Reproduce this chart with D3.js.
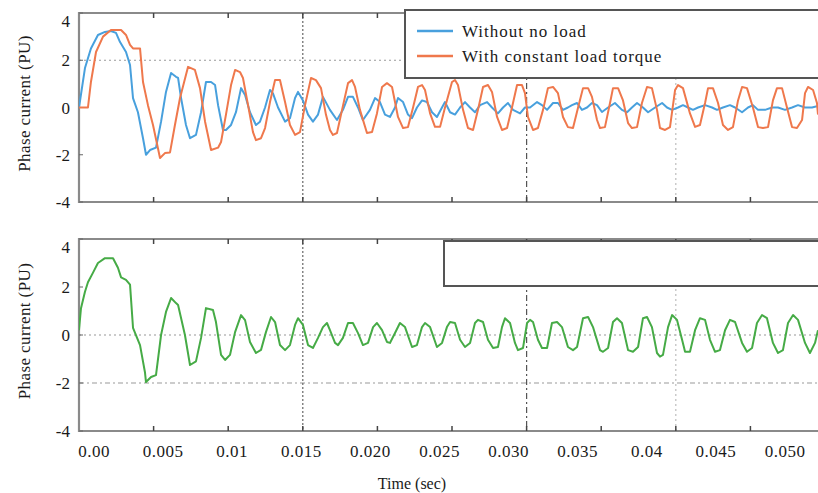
<!DOCTYPE html>
<html><head><meta charset="utf-8">
<script src="https://cdn.jsdelivr.net/npm/d3@7"></script>
<style>
body{margin:0;background:#fff}
svg{display:block}
</style>
</head><body>
<svg id="c" width="818" height="493" font-family="'Liberation Serif', 'Times New Roman', Times, serif"></svg>
<script>
// ---- data (time in milliseconds, current in PU) ----
const blueTimeMs = [
0,0.40,0.80,1.27,1.74,2.14,2.48,2.75,2.95,3.15,
3.42,3.62,3.95,4.29,4.49,4.76,5.16,5.50,5.83,6.17,
6.50,6.64,6.84,7.17,7.44,7.84,8.18,8.51,8.85,9.12,
9.32,9.65,9.85,10.19,10.52,10.86,11.13,11.46,11.86,12.13,
12.47,12.80,13.00,13.34,13.81,14.14,14.48,14.68,15.01,15.35,
15.68,16.02,16.35,16.82,17.29,17.69,18.03,18.36,18.70,19.03,
19.50,19.84,20.17,20.51,20.84,21.18,21.38,21.72,22.05,22.32,
22.65,22.99,23.32,23.66,23.99,24.33,24.53,24.87,25.20,25.54,
25.87,26.21,26.54,26.88,27.35,27.68,28.08,28.42,28.75,29.09,
29.56,29.89,30.23,30.70,31.03,31.37,31.77,32.10,32.44,32.77,
33.04,33.38,33.71,34.05,34.38,34.72,35.05,35.46,35.92,36.39,
36.73,37.06,37.40,37.80,38.14,38.61,39.08,39.41,39.75,40.15,
40.48,40.82,41.15,41.49,41.96,42.43,42.76,43.16,43.63,43.97,
44.44,44.84,45.17,45.51,45.98,46.45,46.85,47.32,47.79,48.19,
48.66,49.13,49.53];
const blueValues = [
0,1.67,2.5,3.07,3.2,3.24,3.16,2.77,2.56,2.35,
1.8,0.4,-0.2,-1.3,-2.0,-1.8,-1.7,-0.6,0.66,1.46,
1.3,1.25,0.4,-0.74,-1.3,-1.16,-0.2,1.08,1.08,0.95,
0.1,-0.95,-0.95,-0.74,-0.2,0.82,0.53,-0.2,-0.74,-0.6,
0,0.74,0.6,0,-0.6,-0.45,0.4,0.66,0.3,-0.3,
-0.6,-0.3,0.45,-0.1,-0.53,-0.1,0.45,0.45,0,-0.53,
-0.1,0.4,0.23,-0.3,-0.4,0,0.4,0.23,-0.3,-0.45,
0,0.3,0.23,-0.2,-0.4,0,0.23,-0.2,-0.3,0,
0.23,0,-0.2,0.1,0.23,0,-0.25,0,0.19,-0.1,
-0.25,0,0,0.23,0.1,-0.1,0.19,0.19,-0.1,0,
0.1,0.19,-0.1,0,0.19,0.1,-0.19,0,0.19,-0.1,
-0.2,0,0.19,0,-0.2,0,0.19,0,-0.1,0,
0.1,0,-0.1,0,0.1,0,-0.1,0,0.1,0,
-0.2,0,0.1,-0.1,-0.1,0,0,-0.1,0,0.1,
0,0,0.06];

const orangeTimeMs = [
0,0.60,0.80,1.14,1.61,2.14,2.82,3.15,3.42,3.62,
4.09,4.29,4.62,4.96,5.43,5.76,6.10,6.43,6.77,7.31,
7.77,8.11,8.45,8.85,9.32,9.52,9.85,10.19,10.46,10.79,
10.99,11.33,11.66,11.86,12.20,12.47,12.80,13.14,13.47,13.81,
14.14,14.48,14.81,15.15,15.55,15.88,16.22,16.55,16.82,17.02,
17.29,17.63,18.03,18.30,18.50,18.83,19.30,19.64,19.97,20.31,
20.64,20.98,21.38,21.72,22.05,22.39,22.72,22.99,23.19,23.53,
23.86,24.20,24.53,25.00,25.20,25.40,25.74,26.07,26.41,26.74,
27.08,27.41,27.68,28.02,28.35,28.69,29.02,29.36,29.69,29.89,
30.09,30.43,30.76,31.10,31.43,31.77,32.10,32.44,32.77,33.11,
33.45,33.78,34.12,34.38,34.72,34.92,35.25,35.59,35.79,36.13,
36.46,36.80,37.06,37.40,37.73,38.07,38.40,38.74,38.94,39.28,
39.61,39.95,40.15,40.48,40.95,41.29,41.62,41.96,42.16,42.49,
42.83,43.16,43.50,43.83,44.17,44.44,44.77,45.17,45.51,45.84,
46.18,46.51,46.78,47.12,47.45,47.79,48.12,48.46,48.66,48.86,
49.20,49.46,49.53];
const orangeValues = [
0,0,1.08,2.35,3.0,3.28,3.28,3.07,2.65,2.5,
2.5,1.08,0.1,-0.74,-2.14,-1.93,-1.9,-0.74,0.4,1.72,
1.59,0.82,-0.6,-1.8,-1.7,-1.46,-0.3,0.95,1.59,1.5,
1.25,0.1,-1.04,-1.38,-1.3,-0.87,0.23,1.16,1.16,0.23,
-0.74,-1.16,-1.04,0.1,1.25,1.16,0.82,-0.3,-0.95,-1.16,
-1.08,-0.1,1.03,1.16,0.87,-0.1,-1.08,-1.04,-0.25,0.87,
1.03,0.87,-0.4,-0.87,-0.83,0,0.87,0.95,0.74,-0.25,
-0.82,-0.82,0,1.08,1.16,0.95,-0.1,-0.87,-0.95,-0.1,
0.87,0.95,0.66,-0.4,-0.95,-0.87,0,0.95,0.95,0.61,
-0.4,-0.95,-0.87,-0.1,0.82,0.87,0.61,-0.4,-0.83,-0.87,
0,0.82,0.82,0.45,-0.53,-0.87,-0.83,0.19,0.82,0.82,
0.3,-0.66,-0.87,-0.83,0.19,0.87,0.82,-0.1,-0.87,-0.95,
-0.83,0.74,0.95,0.82,-0.25,-0.82,-0.74,0.19,0.82,0.82,
0.19,-0.74,-0.95,-0.83,0.3,0.87,0.82,0,-0.83,-0.87,
-0.83,0.3,0.82,0.82,0,-0.83,-0.87,-0.53,0.61,0.87,
0.74,0.19,-0.3];

const greenTimeMs = [
0,0.13,0.40,0.60,0.94,1.27,1.74,2.28,2.61,2.82,
3.15,3.42,3.62,4.09,4.42,4.49,4.83,5.16,5.50,5.83,
6.17,6.50,6.64,7.10,7.44,7.84,8.18,8.51,8.98,9.18,
9.52,9.79,10.12,10.46,10.86,11.13,11.46,11.86,12.20,12.53,
12.87,13.14,13.47,13.81,14.14,14.48,14.68,15.01,15.35,15.68,
16.02,16.35,16.62,16.82,17.16,17.36,17.69,18.03,18.36,18.70,
19.03,19.37,19.71,19.97,20.31,20.64,20.84,21.18,21.51,21.85,
22.32,22.65,22.99,23.19,23.53,23.99,24.33,24.66,24.87,25.20,
25.54,25.87,26.21,26.54,26.74,27.08,27.41,27.75,28.08,28.35,
28.55,28.89,29.22,29.42,29.76,30.03,30.23,30.43,30.76,31.03,
31.37,31.70,32.04,32.37,32.77,33.11,33.38,33.78,34.12,34.45,
34.92,35.12,35.46,35.79,36.06,36.39,36.80,37.13,37.47,37.80,
38.07,38.40,38.74,38.94,39.14,39.48,39.75,40.08,40.42,40.62,
40.95,41.29,41.62,41.96,42.29,42.63,42.96,43.30,43.63,43.97,
44.44,44.77,45.11,45.44,45.78,46.11,46.51,46.85,47.18,47.52,
47.86,48.19,48.66,48.99,49.33,49.53];
const greenValues = [
0.2,1.1,1.8,2.2,2.6,3.0,3.2,3.2,2.8,2.4,
2.3,2.1,0.3,-0.42,-1.55,-1.96,-1.75,-1.67,0,0.96,
1.54,1.33,1.25,0,-1.25,-1.1,-0.12,1.12,1.04,0.54,
-0.83,-1.04,-0.83,0.12,0.83,0.62,-0.29,-0.75,-0.62,0.12,
0.75,0.54,-0.42,-0.63,-0.42,0.42,0.7,0.42,-0.42,-0.54,
-0.12,0.33,0.5,0.2,-0.33,-0.42,-0.12,0.5,0.5,0.08,
-0.42,-0.33,0.33,0.5,0.2,-0.29,-0.33,0.08,0.5,0.33,
-0.5,-0.42,0.33,0.5,0.33,-0.5,-0.33,0.33,0.54,0.5,
-0.2,-0.5,-0.33,0.5,0.63,0.54,-0.2,-0.54,-0.5,0.33,
0.7,0.5,-0.33,-0.63,-0.54,0.5,0.63,0.54,-0.2,-0.54,
-0.54,0.5,0.54,0.33,-0.5,-0.63,-0.5,0.7,0.75,0.33,
-0.63,-0.7,-0.54,0.54,0.7,0.5,-0.63,-0.7,-0.5,0.7,
0.75,0.33,-0.75,-0.9,-0.83,0.33,0.83,0.63,-0.2,-0.7,
-0.7,0.2,0.7,0.63,-0.2,-0.7,-0.63,0.2,0.63,0.54,
-0.33,-0.7,-0.54,0.5,0.83,0.7,-0.33,-0.75,-0.63,0.5,
0.83,0.63,-0.33,-0.75,-0.33,0.2];

const legendLabels = ["Without no load", "With constant load torque"];
const seriesColors = ["#48a0dd", "#ef784c", "#46ab46"];
const xTickLabels = ["0.00","0.005","0.01","0.015","0.020","0.025","0.030","0.035","0.04","0.045","0.050"];
const xTickValues = [0.005,0.010,0.015,0.020,0.025,0.030,0.035,0.040,0.045];
const yTicks = [4, 2, 0, -2, -4];
const yTitle = "Phase current (PU)";
const xTitle = "Time (sec)";

// ---- layout ----
const W = 818, H = 493;
const left = 79, right = 818;
const panels = [
  {top: 13, bottom: 202},
  {top: 239, bottom: 431}
];
const svg = d3.select("#c");
const x = d3.scaleLinear().domain([0, 0.04953]).range([left, right]);
const toPts = (ts, vs) => d3.zip(ts, vs).map(([t, v]) => ({t: t / 1000, v}));

panels.forEach(p => {
  p.y = d3.scaleLinear().domain([-4, 4]).range([p.bottom, p.top]);
});

function vline(g, xv, p, dash, color, w) {
  g.append("line").attr("x1", x(xv)).attr("x2", x(xv))
    .attr("y1", p.top).attr("y2", p.bottom)
    .attr("stroke", color).attr("stroke-width", w || 1)
    .attr("stroke-dasharray", dash);
}
function hline(g, v, p, dash, color, w) {
  g.append("line").attr("x1", left).attr("x2", right)
    .attr("y1", p.y(v)).attr("y2", p.y(v))
    .attr("stroke", color).attr("stroke-width", w || 1)
    .attr("stroke-dasharray", dash);
}

// panel 1 grid
{
  const p = panels[0];
  const g = svg.append("g");
  hline(g, 2, p, "2,3", "#9a9a9a", 1.2);
  vline(g, 0.015, p, "2,2", "#666", 1.2);
  vline(g, 0.030, p, "6,3,2,3", "#555", 1.2);
  vline(g, 0.040, p, "2,3", "#bdbdbd", 1.2);
}
// panel 2 grid
{
  const p = panels[1];
  const g = svg.append("g");
  hline(g, 0, p, "2,3", "#bbbbbb", 1.5);
  hline(g, -2, p, "5,3,2,3", "#9a9a9a", 1.2);
  vline(g, 0.015, p, "2,2", "#666", 1.2);
  vline(g, 0.030, p, "6,3,2,3", "#555", 1.2);
  vline(g, 0.040, p, "2,3", "#bdbdbd", 1.2);
}

// frames, ticks, y labels
panels.forEach(p => {
  const g = svg.append("g");
  g.append("path")
    .attr("d", `M${right},${p.top}H${left}V${p.bottom}H${right}`)
    .attr("fill", "none").attr("stroke", "#8a8a8a").attr("stroke-width", 2.2);
  xTickValues.forEach(tv => {
    g.append("line").attr("x1", x(tv)).attr("x2", x(tv))
      .attr("y1", p.top).attr("y2", p.top + 5).attr("stroke", "#444").attr("stroke-width", 1.5);
    g.append("line").attr("x1", x(tv)).attr("x2", x(tv))
      .attr("y1", p.bottom - 5).attr("y2", p.bottom).attr("stroke", "#444").attr("stroke-width", 1.5);
  });
  yTicks.forEach(v => {
    g.append("line").attr("x1", left).attr("x2", left + 4)
      .attr("y1", p.y(v)).attr("y2", p.y(v)).attr("stroke", "#666").attr("stroke-width", 1);
    g.append("text")
      .attr("x", 70).attr("y", Math.max(p.y(v), p.top + 8) + 6)
      .attr("text-anchor", "end").attr("font-size", 17).attr("fill", "#1a1a1a")
      .text(v);
  });
  const cy = (p.top + p.bottom) / 2 - 4;
  g.append("text")
    .attr("transform", `translate(30,${cy}) rotate(-90)`)
    .attr("text-anchor", "middle").attr("font-size", 17).attr("fill", "#1a1a1a")
    .attr("letter-spacing", 0.4)
    .text(yTitle);
});

// series
const line = (p) => d3.line().x(d => x(d.t)).y(d => p.y(d.v));
svg.append("clipPath").attr("id", "clp").append("rect")
  .attr("x", left).attr("y", 0).attr("width", right - left).attr("height", H);

[[blueTimeMs, blueValues, 0, 0], [orangeTimeMs, orangeValues, 1, 0], [greenTimeMs, greenValues, 2, 1]]
  .forEach(([ts, vs, ci, pi]) => {
    svg.append("path").datum(toPts(ts, vs))
      .attr("d", line(panels[pi])).attr("fill", "none")
      .attr("stroke", seriesColors[ci]).attr("stroke-width", 2).attr("stroke-linejoin", "round")
      .attr("clip-path", "url(#clp)");
  });

// legend (top)
{
  const lg = svg.append("g");
  lg.append("rect").attr("x", 405).attr("y", 10).attr("width", 430).attr("height", 68)
    .attr("fill", "#fff").attr("stroke", "#555").attr("stroke-width", 2);
  legendLabels.forEach((lab, i) => {
    const yy = 31 + i * 25;
    lg.append("line").attr("x1", 417).attr("x2", 453).attr("y1", yy).attr("y2", yy)
      .attr("stroke", seriesColors[i]).attr("stroke-width", 2.5);
    lg.append("text").attr("x", 462).attr("y", yy + 6).attr("fill", "#1a1a1a")
      .attr("font-size", 17).attr("letter-spacing", 1).text(lab);
  });
}
// empty legend box (bottom)
svg.append("rect").attr("x", 444).attr("y", 241).attr("width", 390).attr("height", 45)
  .attr("fill", "#fff").attr("stroke", "#555").attr("stroke-width", 2);

// x tick labels
const xl = d3.scalePoint().domain(xTickLabels).range([94, 785]);
svg.append("g").selectAll("text").data(xTickLabels).join("text")
  .attr("x", d => xl(d)).attr("y", 457).attr("fill", "#1a1a1a")
  .attr("text-anchor", "middle").attr("font-size", 17).attr("letter-spacing", 0.5)
  .text(d => d);

svg.append("text").attr("x", 412).attr("y", 489).attr("fill", "#1a1a1a")
  .attr("text-anchor", "middle").attr("font-size", 16)
  .text(xTitle);
</script>
</body></html>
